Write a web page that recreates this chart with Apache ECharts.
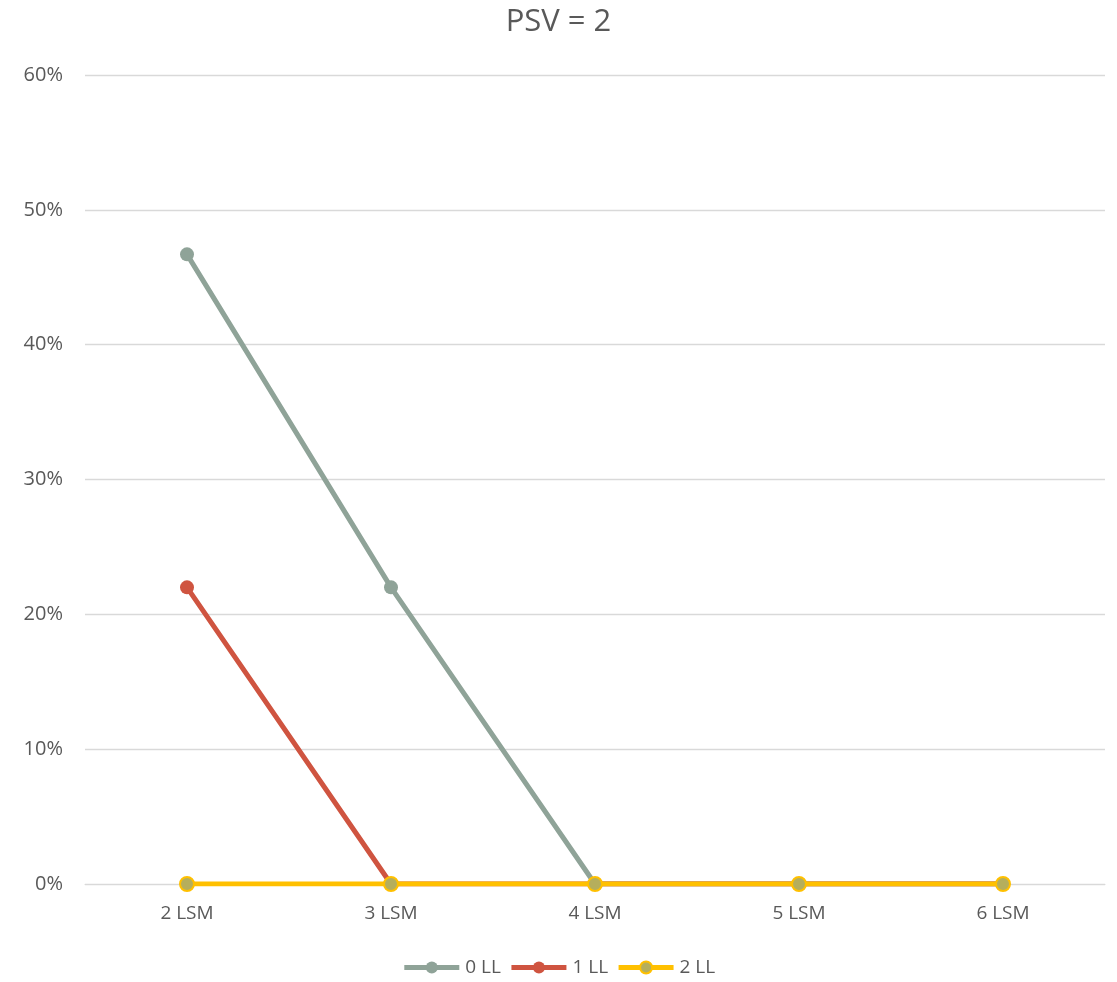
<!DOCTYPE html>
<html><head><meta charset="utf-8">
<script src="https://cdn.jsdelivr.net/npm/echarts@6/dist/echarts.min.js"></script>
<style>html,body{margin:0;padding:0;background:#fff}#c{width:1117px;height:982px}</style>
</head><body><div id="c"></div>
<script>
const categories = ['2 LSM','3 LSM','4 LSM','5 LSM','6 LSM'];
const ll0 = [46.7, 22, 0, 0, 0];
const ll1 = [22, 0, 0, 0, 0];
const ll2 = [0, 0, 0, 0, 0];
const yTicks = [0, 10, 20, 30, 40, 50, 60];
const font = '"Open Sans", "Noto Sans", sans-serif';
const chart = echarts.init(document.getElementById('c'));
function s(name, data, color, fill, z){
  return {name, type:'line', data, z, symbol:'circle', symbolSize:14,
    lineStyle:{color, width:5}, itemStyle:{color:fill, borderColor:color, borderWidth: fill===color?0:2}};
}
chart.setOption({
  animation:false,
  title:{text:'PSV = 2', left:'center', top:2, textStyle:{fontFamily:font, fontSize:31, fontWeight:'normal', color:'#595959'}},
  grid:{left:85, right:12, top:75, bottom:98, containLabel:false},
  xAxis:{type:'category', data:categories, boundaryGap:true,
    axisLine:{lineStyle:{color:'#d9d9d9'}}, axisTick:{show:false},
    axisLabel:{fontFamily:font, fontSize:19, color:'#595959', margin:20}},
  yAxis:{type:'value', min:yTicks[0], max:yTicks[yTicks.length-1], interval:10,
    axisLine:{show:false}, axisTick:{show:false},
    splitLine:{lineStyle:{color:'#d9d9d9', width:1.3}},
    axisLabel:{fontFamily:font, fontSize:20, color:'#595959', margin:22, formatter:v=>v+'%'}},
  legend:{bottom:0, left:'center', itemWidth:55, itemHeight:15, itemGap:8,
    lineStyle:{width:5},
    textStyle:{fontFamily:font, fontSize:19, color:'#595959', padding:[0,0,0,1]},
    data:['0 LL','1 LL','2 LL']},
  series:[
    s('0 LL', ll0, '#8FA398', '#8FA398', 3),
    s('1 LL', ll1, '#CF5440', '#CF5440', 4),
    s('2 LL', ll2, '#FFC000', '#B5AE5C', 5)
  ]
});
</script></body></html>
